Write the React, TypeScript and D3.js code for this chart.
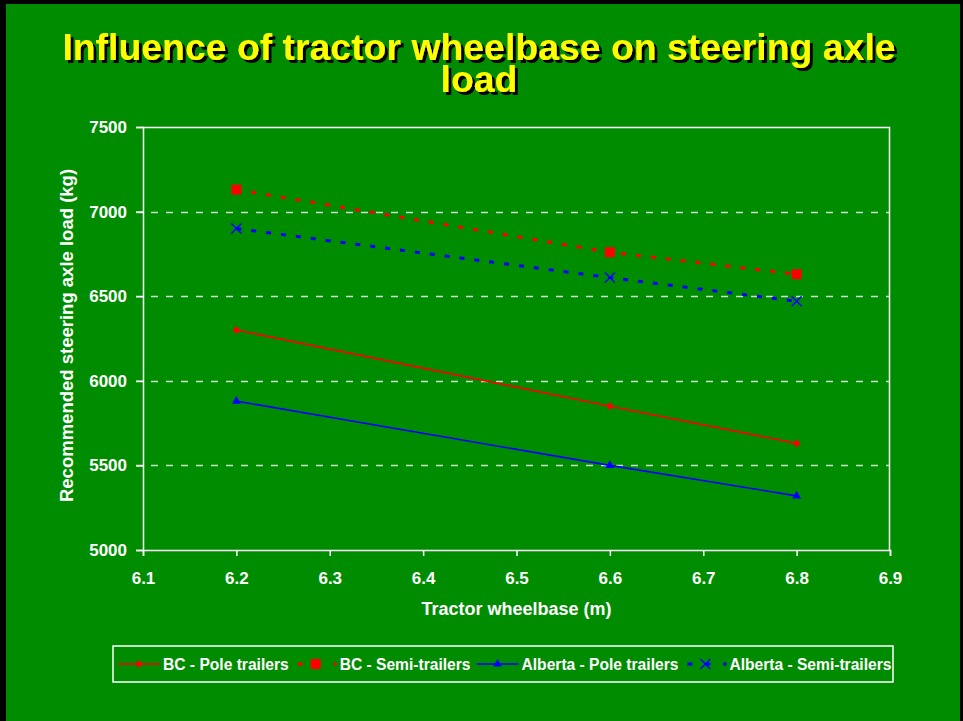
import React, { useEffect, useRef } from "react";
import * as d3 from "d3";

// wheelbase (m) and recommended steering axle load (kg) for each series
const wheelbase = [6.2, 6.6, 6.8];
const bcPole = [6300, 5850, 5630];
const bcSemi = [7130, 6760, 6630];
const albertaPole = [5880, 5500, 5320];
const albertaSemi = [6900, 6610, 6470];

const xTicks = [6.1, 6.2, 6.3, 6.4, 6.5, 6.6, 6.7, 6.8, 6.9];
const yTicks = [5000, 5500, 6000, 6500, 7000, 7500];

const titleLines = ["Influence of tractor wheelbase on steering axle", "load"];

type Marker = "diamond" | "square" | "triangle" | "x";

interface Series {
  name: string;
  values: number[];
  color: string;
  dotted: boolean;
  marker: Marker;
}

const series: Series[] = [
  { name: "BC - Pole trailers", values: bcPole, color: "#ff0000", dotted: false, marker: "diamond" },
  { name: "BC - Semi-trailers", values: bcSemi, color: "#ff0000", dotted: true, marker: "square" },
  { name: "Alberta - Pole trailers", values: albertaPole, color: "#0000ff", dotted: false, marker: "triangle" },
  { name: "Alberta - Semi-trailers", values: albertaSemi, color: "#0000ff", dotted: true, marker: "x" },
];

const FONT = "'Liberation Sans', Arial, Helvetica, sans-serif";
const GREEN = "#008c00";

function drawMarker(g: d3.Selection<SVGGElement, unknown, null, undefined>, kind: Marker, color: string, x: number, y: number) {
  if (kind === "diamond") {
    g.append("path")
      .attr("d", d3.symbol().type(d3.symbolSquare).size(30)()!)
      .attr("transform", `translate(${x},${y}) rotate(45)`)
      .attr("fill", color);
  } else if (kind === "square") {
    g.append("path")
      .attr("d", d3.symbol().type(d3.symbolSquare).size(100)()!)
      .attr("transform", `translate(${x},${y})`)
      .attr("fill", color);
  } else if (kind === "triangle") {
    g.append("path")
      .attr("d", d3.symbol().type(d3.symbolTriangle).size(34)()!)
      .attr("transform", `translate(${x},${y})`)
      .attr("fill", color);
  } else {
    g.append("path")
      .attr("d", "M-5,-5L5,5M5,-5L-5,5")
      .attr("transform", `translate(${x},${y})`)
      .attr("stroke", color)
      .attr("stroke-width", 1.5)
      .attr("fill", "none");
  }
}

export default function App() {
  const svgRef = useRef<SVGSVGElement>(null);

  useEffect(() => {
    if (!svgRef.current) return;
    const width = 963;
    const height = 721;
    const margin = { top: 127, right: 73, bottom: 171, left: 143 };
    const innerWidth = width - margin.left - margin.right;
    const innerHeight = height - margin.top - margin.bottom;

    const svg = d3.select(svgRef.current);
    svg.selectAll("*").remove();

    const defs = svg.append("defs");
    defs
      .append("filter")
      .attr("id", "title-shadow")
      .attr("x", "-5%")
      .attr("y", "-20%")
      .attr("width", "110%")
      .attr("height", "140%")
      .append("feDropShadow")
      .attr("dx", 3)
      .attr("dy", 3)
      .attr("stdDeviation", 0)
      .attr("flood-color", "#000")
      .attr("flood-opacity", 1);

    // slide frame
    svg.append("rect").attr("width", width).attr("height", height).attr("fill", "#000");
    svg.append("rect").attr("x", 6).attr("y", 4).attr("width", width - 9).attr("height", height - 4).attr("fill", GREEN);

    // title with drop shadow
    const title = svg
      .append("text")
      .attr("font-family", FONT)
      .attr("font-weight", "bold")
      .attr("font-size", 37.4)
      .attr("text-anchor", "middle")
      .attr("fill", "#ffff00")
      .attr("filter", "url(#title-shadow)");
    titleLines.forEach((line, i) => {
      title.append("tspan").attr("x", 479).attr("y", 60 + i * 32).text(line);
    });

    const g = svg.append("g").attr("transform", `translate(${margin.left},${margin.top})`);

    const x = d3.scaleLinear().domain([6.1, 6.9]).range([0, innerWidth]);
    const y = d3.scaleLinear().domain([5000, 7500]).range([innerHeight, 0]);

    // gridlines
    g.append("g")
      .selectAll("line")
      .data(yTicks.filter((t) => t > 5000 && t < 7500))
      .join("line")
      .attr("x1", -7)
      .attr("x2", innerWidth)
      .attr("y1", (d) => Math.round(y(d)) + 0.5)
      .attr("y2", (d) => Math.round(y(d)) + 0.5)
      .attr("stroke", "#c8e4c8")
      .attr("stroke-width", 1.5)
      .attr("stroke-dasharray", "7,8");

    // plot border (top/right)
    g.append("path")
      .attr("d", `M0,0.5H${innerWidth - 0.5}V${innerHeight}`)
      .attr("stroke", "#fff")
      .attr("stroke-width", 1.5)
      .attr("fill", "none");

    // axes
    const yAxis = g
      .append("g")
      .call(d3.axisLeft(y).tickValues(yTicks).tickSize(7).tickPadding(9).tickFormat((d) => String(d)));
    const xAxis = g
      .append("g")
      .attr("transform", `translate(0,${innerHeight})`)
      .call(d3.axisBottom(x).tickValues(xTicks).tickSize(6).tickPadding(16).tickFormat(d3.format(".1f")));

    [xAxis, yAxis].forEach((ax) => {
      ax.select(".domain").attr("stroke", "#fff").attr("stroke-width", 1.5);
      ax.selectAll(".tick line").attr("stroke", "#fff").attr("stroke-width", 1.5);
      ax.selectAll(".tick text")
        .attr("fill", "#fff")
        .attr("font-family", FONT)
        .attr("font-weight", "bold")
        .attr("font-size", 17);
    });

    // axis titles
    g.append("text")
      .attr("x", innerWidth / 2)
      .attr("y", innerHeight + 65)
      .attr("text-anchor", "middle")
      .attr("fill", "#fff")
      .attr("font-family", FONT)
      .attr("font-weight", "bold")
      .attr("font-size", 18)
      .text("Tractor wheelbase (m)");

    g.append("text")
      .attr("transform", `translate(-70,${innerHeight / 2 - 3}) rotate(-90)`)
      .attr("text-anchor", "middle")
      .attr("fill", "#fff")
      .attr("font-family", FONT)
      .attr("font-weight", "bold")
      .attr("font-size", 18.5)
      .text("Recommended steering axle load (kg)");

    // series
    const line = d3
      .line<number>()
      .x((_, i) => x(wheelbase[i]))
      .y((d) => y(d));

    series.forEach((s) => {
      g.append("path")
        .datum(s.values)
        .attr("fill", "none")
        .attr("stroke", s.color)
        .attr("stroke-width", s.dotted ? 3 : 1.6)
        .attr("stroke-dasharray", s.dotted ? "5,10" : null)
        .attr("d", line);
      const mg = g.append("g");
      s.values.forEach((v, i) => drawMarker(mg, s.marker, s.color, x(wheelbase[i]), y(v)));
    });

    // legend
    const legendTop = 646;
    const legendLeft = 113;
    const legend = svg.append("g");
    legend
      .append("rect")
      .attr("x", legendLeft)
      .attr("y", legendTop)
      .attr("width", 780)
      .attr("height", 36)
      .attr("fill", "none")
      .attr("stroke", "#fff")
      .attr("stroke-width", 1.5);

    let cursor = legendLeft + 5;
    const cy = legendTop + 18;
    series.forEach((s) => {
      const item = legend.append("g");
      item
        .append("line")
        .attr("x1", cursor)
        .attr("x2", cursor + 42)
        .attr("y1", cy)
        .attr("y2", cy)
        .attr("stroke", s.color)
        .attr("stroke-width", s.dotted ? 3 : 1.6)
        .attr("stroke-dasharray", s.dotted ? "0,3,5,10" : null);
      drawMarker(item, s.marker, s.color, cursor + 21, cy);
      const t = item
        .append("text")
        .attr("x", cursor + 45)
        .attr("y", cy + 5.5)
        .attr("fill", "#fff")
        .attr("font-family", FONT)
        .attr("font-weight", "bold")
        .attr("font-size", 15.6)
        .text(s.name);
      const w = (t.node() as SVGTextElement).getComputedTextLength();
      cursor += 45 + w + 6;
    });
  }, []);

  return (
    <div style={{ position: "absolute", left: 0, top: 0 }}>
      <svg ref={svgRef} width={963} height={721} style={{ display: "block" }} />
    </div>
  );
}
